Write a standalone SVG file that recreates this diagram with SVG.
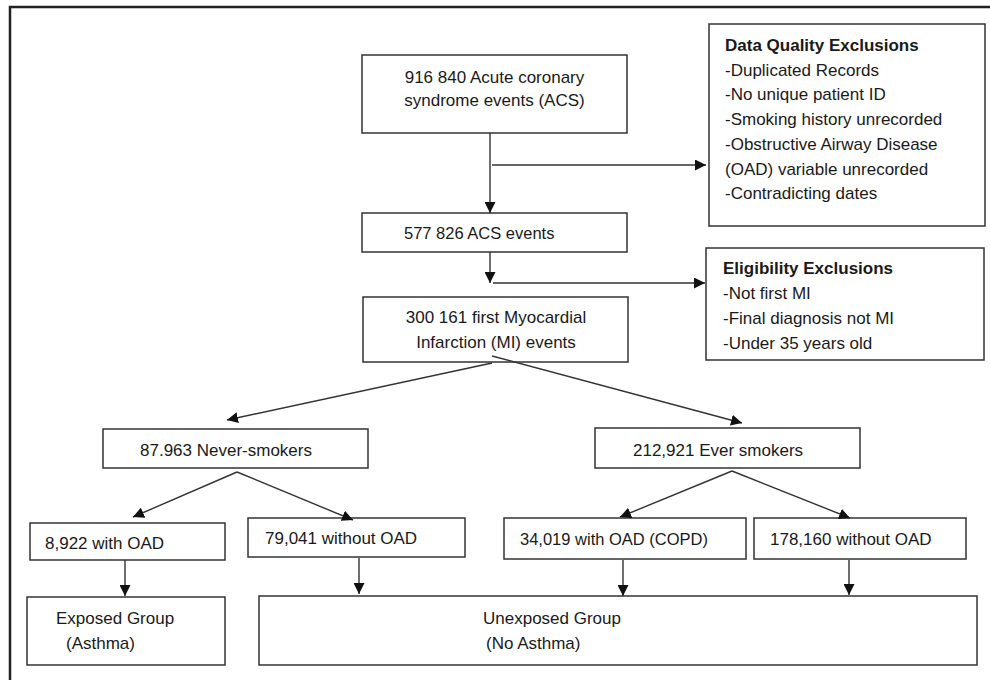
<svg xmlns="http://www.w3.org/2000/svg" width="990" height="680" viewBox="0 0 990 680">
<style>
.box{fill:#fff;stroke:#333;stroke-width:1.5}
.t{font-family:"Liberation Sans",Arial,sans-serif;font-size:17px;fill:#1a1a1a}
.s{font-size:16.5px}
.b{font-weight:bold}
.c{text-anchor:middle}
.ln{stroke:#333;stroke-width:1.4;fill:none;marker-end:url(#ah)}
</style>
<defs>
<marker id="ah" markerUnits="userSpaceOnUse" viewBox="0 0 10 10" refX="10" refY="5" markerWidth="11" markerHeight="11" orient="auto">
<path d="M0,0 L10,5 L0,10 z" fill="#111"/>
</marker>
</defs>
<rect width="990" height="680" fill="#fff"/>
<path d="M10,680 L10,7 L990,7" fill="none" stroke="#222" stroke-width="2.5"/>

<g id="acs">
<rect class="box" x="362" y="55" width="265" height="78"/>
<text class="t c" x="494.5" y="83">916 840 Acute coronary</text>
<text class="t c" x="494.5" y="106">syndrome events (ACS)</text>
</g>
<g id="dq">
<rect class="box" x="709" y="24" width="276" height="202"/>
<text class="t b" x="725" y="51">Data Quality Exclusions</text>
<text class="t" x="725" y="76">-Duplicated Records</text>
<text class="t" x="725" y="100">-No unique patient ID</text>
<text class="t" x="725" y="125">-Smoking history unrecorded</text>
<text class="t" x="725" y="150">-Obstructive Airway Disease</text>
<text class="t" x="725" y="175">(OAD) variable unrecorded</text>
<text class="t" x="725" y="199">-Contradicting dates</text>
</g>
<g id="acs2">
<rect class="box" x="362" y="213" width="265" height="39"/>
<text class="t s" x="404" y="239">577 826 ACS events</text>
</g>
<g id="elig">
<rect class="box" x="706" y="248" width="278" height="112"/>
<text class="t b" x="723" y="274">Eligibility Exclusions</text>
<text class="t" x="723" y="299">-Not first MI</text>
<text class="t" x="723" y="324">-Final diagnosis not MI</text>
<text class="t" x="723" y="349">-Under 35 years old</text>
</g>
<g id="mi">
<rect class="box" x="363" y="297" width="265" height="65"/>
<text class="t c" x="496" y="323">300 161 first Myocardial</text>
<text class="t c" x="496" y="348">Infarction (MI) events</text>
</g>
<g id="never">
<rect class="box" x="103" y="429" width="265" height="39"/>
<text class="t" x="140" y="456">87.963 Never-smokers</text>
</g>
<g id="ever">
<rect class="box" x="595" y="428" width="265" height="40"/>
<text class="t" x="633" y="456">212,921 Ever smokers</text>
</g>
<g id="n_oad">
<rect class="box" x="30" y="523" width="195" height="37"/>
<text class="t" x="45" y="549">8,922 with OAD</text>
</g>
<g id="n_nooad">
<rect class="box" x="248" y="518" width="217" height="39"/>
<text class="t" x="265" y="544">79,041 without OAD</text>
</g>
<g id="e_oad">
<rect class="box" x="504" y="518" width="242" height="41"/>
<text class="t s" x="520" y="545">34,019 with OAD (COPD)</text>
</g>
<g id="e_nooad">
<rect class="box" x="754" y="518" width="212" height="41"/>
<text class="t" x="770" y="545">178,160 without OAD</text>
</g>
<g id="exposed">
<rect class="box" x="27" y="597" width="198" height="68"/>
<text class="t" x="56" y="624">Exposed Group</text>
<text class="t" x="66" y="649">(Asthma)</text>
</g>
<g id="unexposed">
<rect class="box" x="259" y="596" width="718" height="69"/>
<text class="t" x="483" y="624">Unexposed Group</text>
<text class="t" x="486" y="649">(No Asthma)</text>
</g>

<g id="connectors">
<line class="ln" x1="490" y1="133" x2="490" y2="213"/>
<line class="ln" x1="492" y1="165" x2="706" y2="165"/>
<line class="ln" x1="490" y1="252" x2="490" y2="283"/>
<line class="ln" x1="493" y1="283" x2="705" y2="283"/>
<line class="ln" x1="492" y1="363" x2="227" y2="420"/>
<line class="ln" x1="492" y1="356" x2="742" y2="423"/>
<line class="ln" x1="237" y1="472" x2="133" y2="517"/>
<line class="ln" x1="237" y1="472" x2="353" y2="520"/>
<line class="ln" x1="732" y1="471" x2="620" y2="517"/>
<line class="ln" x1="732" y1="471" x2="850" y2="518"/>
<line class="ln" x1="125" y1="560" x2="125" y2="596"/>
<line class="ln" x1="359" y1="558" x2="359" y2="594"/>
<line class="ln" x1="623" y1="560" x2="623" y2="596"/>
<line class="ln" x1="849" y1="560" x2="849" y2="595"/>
</g>
</svg>
